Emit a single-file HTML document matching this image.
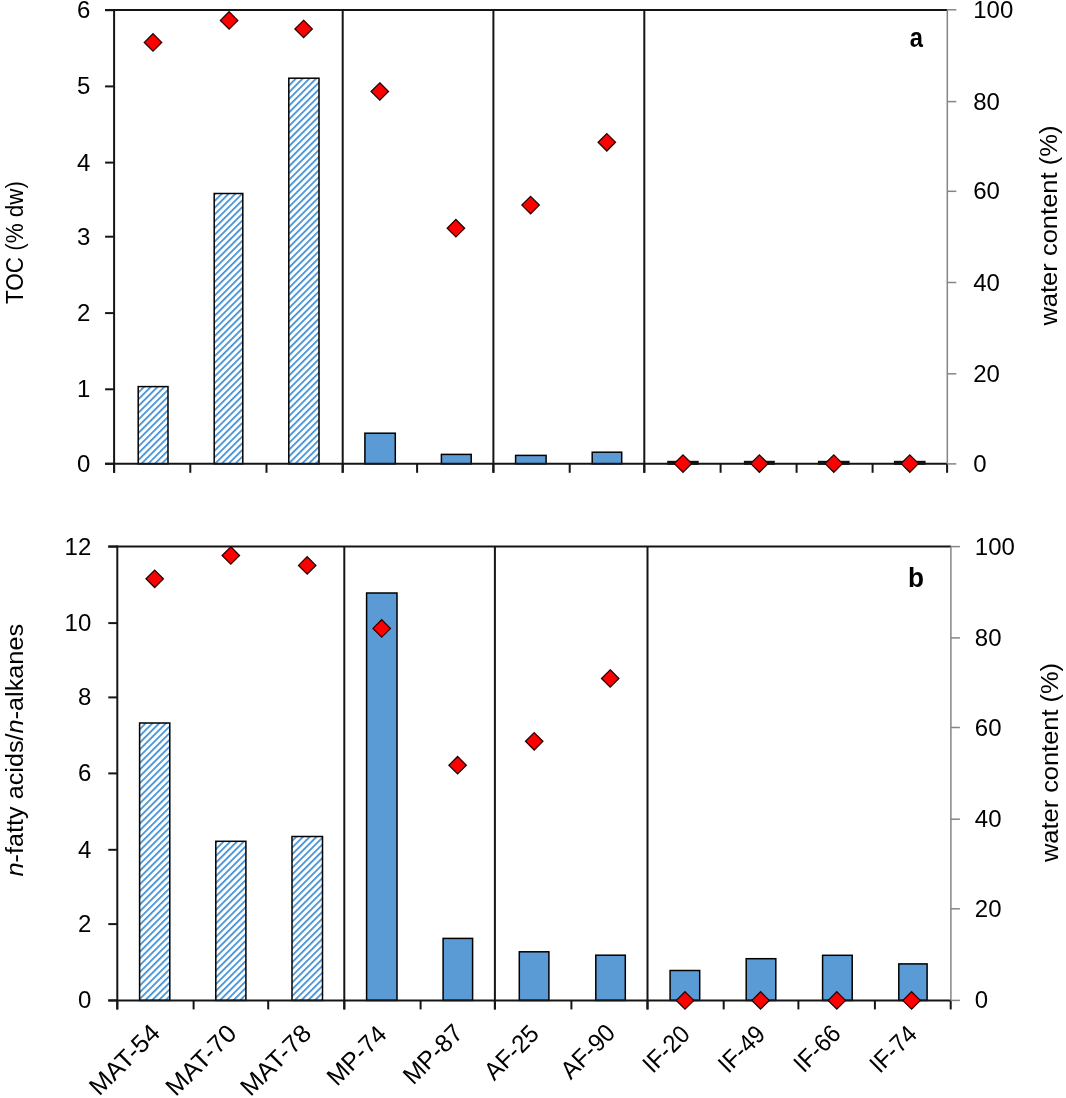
<!DOCTYPE html>
<html><head><meta charset="utf-8"><style>
html,body{margin:0;padding:0;background:#fff;}
svg{display:block;filter:blur(0.45px);}
.t{font-family:"Liberation Sans", sans-serif;font-size:24px;fill:#000;}
.ti{font-family:"Liberation Sans", sans-serif;font-size:23px;fill:#000;}

.xl{font-family:"Liberation Sans", sans-serif;font-size:25px;fill:#000;}
.lt{font-family:"Liberation Sans", sans-serif;font-size:27px;font-weight:bold;fill:#000;}
</style></head><body>
<svg width="1066" height="1098" viewBox="0 0 1066 1098">
<defs>
<pattern id="hatch" patternUnits="userSpaceOnUse" width="4.77" height="10" patternTransform="rotate(45)">
<rect x="0" y="0" width="4.77" height="10" fill="#fff"/>
<rect x="0" y="0" width="1.6" height="10" fill="#4190D4"/>
</pattern>
</defs>
<rect width="1066" height="1098" fill="#fff"/>
<defs><pattern id="ha0" patternUnits="userSpaceOnUse" width="4.77" height="10" patternTransform="translate(3.5,0) rotate(45)"><rect x="0" y="0" width="4.77" height="10" fill="#fff"/><rect x="0" y="0" width="1.75" height="10" fill="#4190D4"/></pattern></defs>
<rect x="138.20" y="386.60" width="29.80" height="77.20" fill="url(#ha0)" stroke="#000" stroke-width="1.5"/>
<defs><pattern id="ha1" patternUnits="userSpaceOnUse" width="4.77" height="10" patternTransform="translate(2.9,0) rotate(45)"><rect x="0" y="0" width="4.77" height="10" fill="#fff"/><rect x="0" y="0" width="1.75" height="10" fill="#4190D4"/></pattern></defs>
<rect x="214.20" y="193.50" width="28.60" height="270.30" fill="url(#ha1)" stroke="#000" stroke-width="1.5"/>
<defs><pattern id="ha2" patternUnits="userSpaceOnUse" width="4.77" height="10" patternTransform="translate(2.2,0) rotate(45)"><rect x="0" y="0" width="4.77" height="10" fill="#fff"/><rect x="0" y="0" width="1.75" height="10" fill="#4190D4"/></pattern></defs>
<rect x="288.80" y="78.20" width="30.20" height="385.60" fill="url(#ha2)" stroke="#000" stroke-width="1.5"/>
<rect x="364.90" y="433.20" width="30.40" height="30.60" fill="#5B9BD5" stroke="#000" stroke-width="1.5"/>
<rect x="441.40" y="454.40" width="29.80" height="9.40" fill="#5B9BD5" stroke="#000" stroke-width="1.5"/>
<rect x="515.60" y="455.40" width="30.50" height="8.40" fill="#5B9BD5" stroke="#000" stroke-width="1.5"/>
<rect x="592.20" y="452.20" width="29.50" height="11.60" fill="#5B9BD5" stroke="#000" stroke-width="1.5"/>
<rect x="667.20" y="460.80" width="31.50" height="4.00" fill="#111"/>
<rect x="743.90" y="460.80" width="30.90" height="4.00" fill="#111"/>
<rect x="817.90" y="460.80" width="31.70" height="4.00" fill="#111"/>
<rect x="893.90" y="460.80" width="31.70" height="4.00" fill="#111"/>
<line x1="342.7" y1="10.0" x2="342.7" y2="472.8" stroke="#151515" stroke-width="2"/>
<line x1="493.4" y1="10.0" x2="493.4" y2="472.8" stroke="#151515" stroke-width="2"/>
<line x1="644.3" y1="10.0" x2="644.3" y2="472.8" stroke="#151515" stroke-width="2"/>
<line x1="105.1" y1="10.0" x2="947.3" y2="10.0" stroke="#151515" stroke-width="2"/>
<line x1="114.1" y1="9.0" x2="114.1" y2="472.8" stroke="#151515" stroke-width="2"/>
<line x1="105.1" y1="463.8" x2="947.3" y2="463.8" stroke="#151515" stroke-width="2"/>
<line x1="114.1" y1="463.8" x2="114.1" y2="472.8" stroke="#151515" stroke-width="2"/>
<line x1="190.3" y1="463.8" x2="190.3" y2="472.8" stroke="#151515" stroke-width="2"/>
<line x1="266.5" y1="463.8" x2="266.5" y2="472.8" stroke="#151515" stroke-width="2"/>
<line x1="342.7" y1="463.8" x2="342.7" y2="472.8" stroke="#151515" stroke-width="2"/>
<line x1="417.1" y1="463.8" x2="417.1" y2="472.8" stroke="#151515" stroke-width="2"/>
<line x1="493.4" y1="463.8" x2="493.4" y2="472.8" stroke="#151515" stroke-width="2"/>
<line x1="569.7" y1="463.8" x2="569.7" y2="472.8" stroke="#151515" stroke-width="2"/>
<line x1="644.3" y1="463.8" x2="644.3" y2="472.8" stroke="#151515" stroke-width="2"/>
<line x1="720.6" y1="463.8" x2="720.6" y2="472.8" stroke="#151515" stroke-width="2"/>
<line x1="796.6" y1="463.8" x2="796.6" y2="472.8" stroke="#151515" stroke-width="2"/>
<line x1="872.6" y1="463.8" x2="872.6" y2="472.8" stroke="#151515" stroke-width="2"/>
<line x1="947.1" y1="463.8" x2="947.1" y2="472.8" stroke="#151515" stroke-width="2"/>
<line x1="105.1" y1="463.80" x2="114.1" y2="463.80" stroke="#151515" stroke-width="2"/>
<text x="90.39999999999999" y="471.80" text-anchor="end" class="t">0</text>
<line x1="105.1" y1="389.30" x2="114.1" y2="389.30" stroke="#151515" stroke-width="2"/>
<text x="90.39999999999999" y="397.30" text-anchor="end" class="t">1</text>
<line x1="105.1" y1="313.10" x2="114.1" y2="313.10" stroke="#151515" stroke-width="2"/>
<text x="90.39999999999999" y="321.10" text-anchor="end" class="t">2</text>
<line x1="105.1" y1="236.70" x2="114.1" y2="236.70" stroke="#151515" stroke-width="2"/>
<text x="90.39999999999999" y="244.70" text-anchor="end" class="t">3</text>
<line x1="105.1" y1="162.60" x2="114.1" y2="162.60" stroke="#151515" stroke-width="2"/>
<text x="90.39999999999999" y="170.60" text-anchor="end" class="t">4</text>
<line x1="105.1" y1="86.40" x2="114.1" y2="86.40" stroke="#151515" stroke-width="2"/>
<text x="90.39999999999999" y="94.40" text-anchor="end" class="t">5</text>
<line x1="105.1" y1="10.20" x2="114.1" y2="10.20" stroke="#151515" stroke-width="2"/>
<text x="90.39999999999999" y="18.20" text-anchor="end" class="t">6</text>
<line x1="947.3" y1="10.0" x2="947.3" y2="463.8" stroke="#858585" stroke-width="1.5"/>
<line x1="947.3" y1="463.90" x2="956.3" y2="463.90" stroke="#858585" stroke-width="1.5"/>
<text x="973.1999999999999" y="471.90" class="t">0</text>
<line x1="947.3" y1="373.80" x2="956.3" y2="373.80" stroke="#858585" stroke-width="1.5"/>
<text x="973.1999999999999" y="381.80" class="t">20</text>
<line x1="947.3" y1="282.50" x2="956.3" y2="282.50" stroke="#858585" stroke-width="1.5"/>
<text x="973.1999999999999" y="290.50" class="t">40</text>
<line x1="947.3" y1="191.30" x2="956.3" y2="191.30" stroke="#858585" stroke-width="1.5"/>
<text x="973.1999999999999" y="199.30" class="t">60</text>
<line x1="947.3" y1="101.60" x2="956.3" y2="101.60" stroke="#858585" stroke-width="1.5"/>
<text x="973.1999999999999" y="109.60" class="t">80</text>
<line x1="947.3" y1="9.80" x2="956.3" y2="9.80" stroke="#858585" stroke-width="1.5"/>
<text x="973.1999999999999" y="17.80" class="t">100</text>
<path d="M153.00 33.70L161.70 42.40L153.00 51.10L144.30 42.40Z" fill="#FF0000" stroke="#2a0000" stroke-width="1.3"/>
<path d="M229.10 11.70L237.80 20.40L229.10 29.10L220.40 20.40Z" fill="#FF0000" stroke="#2a0000" stroke-width="1.3"/>
<path d="M303.60 20.30L312.30 29.00L303.60 37.70L294.90 29.00Z" fill="#FF0000" stroke="#2a0000" stroke-width="1.3"/>
<path d="M379.80 82.80L388.50 91.50L379.80 100.20L371.10 91.50Z" fill="#FF0000" stroke="#2a0000" stroke-width="1.3"/>
<path d="M455.90 219.50L464.60 228.20L455.90 236.90L447.20 228.20Z" fill="#FF0000" stroke="#2a0000" stroke-width="1.3"/>
<path d="M530.60 196.40L539.30 205.10L530.60 213.80L521.90 205.10Z" fill="#FF0000" stroke="#2a0000" stroke-width="1.3"/>
<path d="M606.80 133.60L615.50 142.30L606.80 151.00L598.10 142.30Z" fill="#FF0000" stroke="#2a0000" stroke-width="1.3"/>
<path d="M683.00 454.90L691.70 463.60L683.00 472.30L674.30 463.60Z" fill="#FF0000" stroke="#2a0000" stroke-width="1.3"/>
<path d="M759.40 454.90L768.10 463.60L759.40 472.30L750.70 463.60Z" fill="#FF0000" stroke="#2a0000" stroke-width="1.3"/>
<path d="M833.80 454.90L842.50 463.60L833.80 472.30L825.10 463.60Z" fill="#FF0000" stroke="#2a0000" stroke-width="1.3"/>
<path d="M909.80 454.90L918.50 463.60L909.80 472.30L901.10 463.60Z" fill="#FF0000" stroke="#2a0000" stroke-width="1.3"/>
<text transform="translate(909.7,46.5) scale(0.88,1)" class="lt">a</text>
<text transform="translate(1057.4,225.6) rotate(-90)" text-anchor="middle" class="ti" textLength="200.0" lengthAdjust="spacingAndGlyphs">water content (%)</text>
<text transform="translate(23.0,242.5) rotate(-90)" text-anchor="middle" class="ti" textLength="123.0" lengthAdjust="spacingAndGlyphs">TOC (% dw)</text>
<defs><pattern id="hb0" patternUnits="userSpaceOnUse" width="4.77" height="10" patternTransform="translate(-2.5,0) rotate(45)"><rect x="0" y="0" width="4.77" height="10" fill="#fff"/><rect x="0" y="0" width="1.75" height="10" fill="#4190D4"/></pattern></defs>
<rect x="139.60" y="723.00" width="30.20" height="277.40" fill="url(#hb0)" stroke="#000" stroke-width="1.5"/>
<defs><pattern id="hb1" patternUnits="userSpaceOnUse" width="4.77" height="10" patternTransform="translate(-2.0,0) rotate(45)"><rect x="0" y="0" width="4.77" height="10" fill="#fff"/><rect x="0" y="0" width="1.75" height="10" fill="#4190D4"/></pattern></defs>
<rect x="215.80" y="841.30" width="30.10" height="159.10" fill="url(#hb1)" stroke="#000" stroke-width="1.5"/>
<defs><pattern id="hb2" patternUnits="userSpaceOnUse" width="4.77" height="10" patternTransform="translate(-1.5,0) rotate(45)"><rect x="0" y="0" width="4.77" height="10" fill="#fff"/><rect x="0" y="0" width="1.75" height="10" fill="#4190D4"/></pattern></defs>
<rect x="292.00" y="836.50" width="30.50" height="163.90" fill="url(#hb2)" stroke="#000" stroke-width="1.5"/>
<rect x="366.60" y="593.00" width="30.40" height="407.40" fill="#5B9BD5" stroke="#000" stroke-width="1.5"/>
<rect x="443.10" y="938.40" width="29.50" height="62.00" fill="#5B9BD5" stroke="#000" stroke-width="1.5"/>
<rect x="519.30" y="951.80" width="29.60" height="48.60" fill="#5B9BD5" stroke="#000" stroke-width="1.5"/>
<rect x="595.80" y="955.20" width="29.50" height="45.20" fill="#5B9BD5" stroke="#000" stroke-width="1.5"/>
<rect x="670.10" y="970.50" width="29.60" height="29.90" fill="#5B9BD5" stroke="#000" stroke-width="1.5"/>
<rect x="746.20" y="958.70" width="29.60" height="41.70" fill="#5B9BD5" stroke="#000" stroke-width="1.5"/>
<rect x="822.60" y="955.30" width="29.60" height="45.10" fill="#5B9BD5" stroke="#000" stroke-width="1.5"/>
<rect x="898.80" y="963.90" width="28.30" height="36.50" fill="#5B9BD5" stroke="#000" stroke-width="1.5"/>
<line x1="344.3" y1="546.6" x2="344.3" y2="1009.4" stroke="#151515" stroke-width="2"/>
<line x1="494.9" y1="546.6" x2="494.9" y2="1009.4" stroke="#151515" stroke-width="2"/>
<line x1="647.5" y1="546.6" x2="647.5" y2="1009.4" stroke="#151515" stroke-width="2"/>
<line x1="108.3" y1="546.6" x2="950.9" y2="546.6" stroke="#151515" stroke-width="2"/>
<line x1="117.3" y1="545.6" x2="117.3" y2="1009.4" stroke="#151515" stroke-width="2"/>
<line x1="108.3" y1="1000.4" x2="950.9" y2="1000.4" stroke="#151515" stroke-width="2"/>
<line x1="117.3" y1="1000.4" x2="117.3" y2="1009.4" stroke="#151515" stroke-width="2"/>
<line x1="193.6" y1="1000.4" x2="193.6" y2="1009.4" stroke="#151515" stroke-width="2"/>
<line x1="268.2" y1="1000.4" x2="268.2" y2="1009.4" stroke="#151515" stroke-width="2"/>
<line x1="344.3" y1="1000.4" x2="344.3" y2="1009.4" stroke="#151515" stroke-width="2"/>
<line x1="420.6" y1="1000.4" x2="420.6" y2="1009.4" stroke="#151515" stroke-width="2"/>
<line x1="494.9" y1="1000.4" x2="494.9" y2="1009.4" stroke="#151515" stroke-width="2"/>
<line x1="571.4" y1="1000.4" x2="571.4" y2="1009.4" stroke="#151515" stroke-width="2"/>
<line x1="647.5" y1="1000.4" x2="647.5" y2="1009.4" stroke="#151515" stroke-width="2"/>
<line x1="723.7" y1="1000.4" x2="723.7" y2="1009.4" stroke="#151515" stroke-width="2"/>
<line x1="798.4" y1="1000.4" x2="798.4" y2="1009.4" stroke="#151515" stroke-width="2"/>
<line x1="874.9" y1="1000.4" x2="874.9" y2="1009.4" stroke="#151515" stroke-width="2"/>
<line x1="950.7" y1="1000.4" x2="950.7" y2="1009.4" stroke="#151515" stroke-width="2"/>
<line x1="108.3" y1="1000.40" x2="117.3" y2="1000.40" stroke="#151515" stroke-width="2"/>
<text x="91.3" y="1008.40" text-anchor="end" class="t">0</text>
<line x1="108.3" y1="924.10" x2="117.3" y2="924.10" stroke="#151515" stroke-width="2"/>
<text x="91.3" y="932.10" text-anchor="end" class="t">2</text>
<line x1="108.3" y1="849.80" x2="117.3" y2="849.80" stroke="#151515" stroke-width="2"/>
<text x="91.3" y="857.80" text-anchor="end" class="t">4</text>
<line x1="108.3" y1="773.40" x2="117.3" y2="773.40" stroke="#151515" stroke-width="2"/>
<text x="91.3" y="781.40" text-anchor="end" class="t">6</text>
<line x1="108.3" y1="697.40" x2="117.3" y2="697.40" stroke="#151515" stroke-width="2"/>
<text x="91.3" y="705.40" text-anchor="end" class="t">8</text>
<line x1="108.3" y1="623.10" x2="117.3" y2="623.10" stroke="#151515" stroke-width="2"/>
<text x="91.3" y="631.10" text-anchor="end" class="t">10</text>
<line x1="108.3" y1="546.60" x2="117.3" y2="546.60" stroke="#151515" stroke-width="2"/>
<text x="91.3" y="554.60" text-anchor="end" class="t">12</text>
<line x1="950.9" y1="546.6" x2="950.9" y2="1000.4" stroke="#858585" stroke-width="1.5"/>
<line x1="950.9" y1="1000.40" x2="959.9" y2="1000.40" stroke="#858585" stroke-width="1.5"/>
<text x="974.8" y="1008.40" class="t">0</text>
<line x1="950.9" y1="908.80" x2="959.9" y2="908.80" stroke="#858585" stroke-width="1.5"/>
<text x="974.8" y="916.80" class="t">20</text>
<line x1="950.9" y1="819.20" x2="959.9" y2="819.20" stroke="#858585" stroke-width="1.5"/>
<text x="974.8" y="827.20" class="t">40</text>
<line x1="950.9" y1="727.50" x2="959.9" y2="727.50" stroke="#858585" stroke-width="1.5"/>
<text x="974.8" y="735.50" class="t">60</text>
<line x1="950.9" y1="637.90" x2="959.9" y2="637.90" stroke="#858585" stroke-width="1.5"/>
<text x="974.8" y="645.90" class="t">80</text>
<line x1="950.9" y1="546.60" x2="959.9" y2="546.60" stroke="#858585" stroke-width="1.5"/>
<text x="974.8" y="554.60" class="t">100</text>
<path d="M154.70 570.10L163.40 578.80L154.70 587.50L146.00 578.80Z" fill="#FF0000" stroke="#2a0000" stroke-width="1.3"/>
<path d="M230.80 546.80L239.50 555.50L230.80 564.20L222.10 555.50Z" fill="#FF0000" stroke="#2a0000" stroke-width="1.3"/>
<path d="M307.20 556.70L315.90 565.40L307.20 574.10L298.50 565.40Z" fill="#FF0000" stroke="#2a0000" stroke-width="1.3"/>
<path d="M381.70 619.70L390.40 628.40L381.70 637.10L373.00 628.40Z" fill="#FF0000" stroke="#2a0000" stroke-width="1.3"/>
<path d="M457.60 756.50L466.30 765.20L457.60 773.90L448.90 765.20Z" fill="#FF0000" stroke="#2a0000" stroke-width="1.3"/>
<path d="M534.20 732.60L542.90 741.30L534.20 750.00L525.50 741.30Z" fill="#FF0000" stroke="#2a0000" stroke-width="1.3"/>
<path d="M610.20 669.80L618.90 678.50L610.20 687.20L601.50 678.50Z" fill="#FF0000" stroke="#2a0000" stroke-width="1.3"/>
<path d="M685.00 991.70L693.70 1000.40L685.00 1009.10L676.30 1000.40Z" fill="#FF0000" stroke="#2a0000" stroke-width="1.3"/>
<path d="M760.60 991.70L769.30 1000.40L760.60 1009.10L751.90 1000.40Z" fill="#FF0000" stroke="#2a0000" stroke-width="1.3"/>
<path d="M836.80 991.70L845.50 1000.40L836.80 1009.10L828.10 1000.40Z" fill="#FF0000" stroke="#2a0000" stroke-width="1.3"/>
<path d="M911.60 991.70L920.30 1000.40L911.60 1009.10L902.90 1000.40Z" fill="#FF0000" stroke="#2a0000" stroke-width="1.3"/>
<text transform="translate(907.9,587.3) scale(0.97,1)" class="lt">b</text>
<text transform="translate(1058.4,762.5) rotate(-90)" text-anchor="middle" class="ti" textLength="199.0" lengthAdjust="spacingAndGlyphs">water content (%)</text>
<text transform="translate(22.5,750.2) rotate(-90)" text-anchor="middle" class="ti" textLength="252.5" lengthAdjust="spacingAndGlyphs"><tspan font-style="italic">n</tspan>-fatty acids/<tspan font-style="italic">n</tspan>-alkanes</text>
<text transform="translate(161.6,1034.5) rotate(-45)" text-anchor="end" class="xl" textLength="88.17" lengthAdjust="spacingAndGlyphs">MAT-54</text>
<text transform="translate(238.1,1035.0) rotate(-45)" text-anchor="end" class="xl" textLength="88.17" lengthAdjust="spacingAndGlyphs">MAT-70</text>
<text transform="translate(312.9,1035.0) rotate(-45)" text-anchor="end" class="xl" textLength="88.17" lengthAdjust="spacingAndGlyphs">MAT-78</text>
<text transform="translate(388.1,1035.8) rotate(-45)" text-anchor="end" class="xl" textLength="72.34" lengthAdjust="spacingAndGlyphs">MP-74</text>
<text transform="translate(464.3,1034.6) rotate(-45)" text-anchor="end" class="xl" textLength="72.34" lengthAdjust="spacingAndGlyphs">MP-87</text>
<text transform="translate(540.5,1035.4) rotate(-45)" text-anchor="end" class="xl" textLength="65.29" lengthAdjust="spacingAndGlyphs">AF-25</text>
<text transform="translate(616.8,1034.4) rotate(-45)" text-anchor="end" class="xl" textLength="65.29" lengthAdjust="spacingAndGlyphs">AF-90</text>
<text transform="translate(691.4,1035.7) rotate(-45)" text-anchor="end" class="xl" textLength="54.66" lengthAdjust="spacingAndGlyphs">IF-20</text>
<text transform="translate(766.8,1035.7) rotate(-45)" text-anchor="end" class="xl" textLength="54.66" lengthAdjust="spacingAndGlyphs">IF-49</text>
<text transform="translate(842.3,1035.0) rotate(-45)" text-anchor="end" class="xl" textLength="54.66" lengthAdjust="spacingAndGlyphs">IF-66</text>
<text transform="translate(918.4,1035.7) rotate(-45)" text-anchor="end" class="xl" textLength="54.66" lengthAdjust="spacingAndGlyphs">IF-74</text>
</svg>
</body></html>
